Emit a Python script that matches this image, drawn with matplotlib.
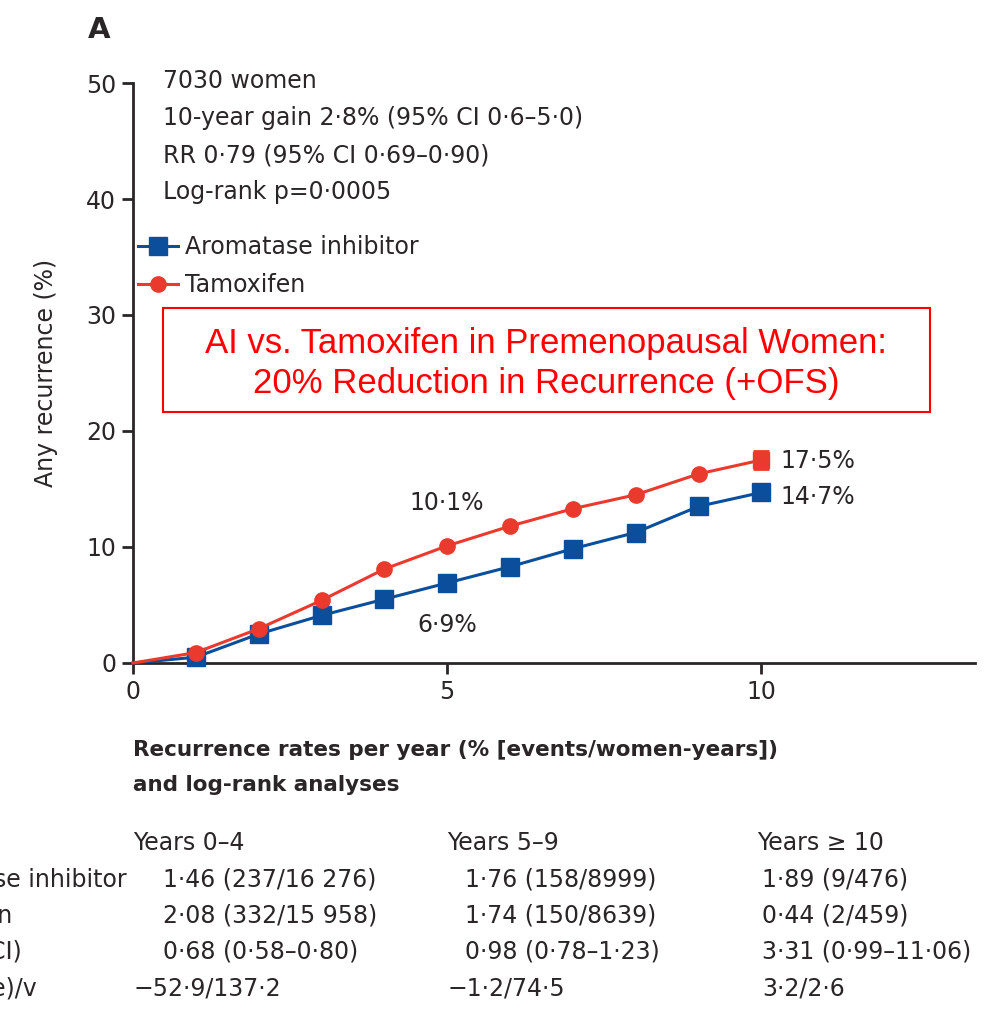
import matplotlib
matplotlib.use("Agg")
import matplotlib.pyplot as plt
from matplotlib.patches import Rectangle

# ---- data ----
years = [0, 1, 2, 3, 4, 5, 6, 7, 8, 9, 10]
ai_recurrence = [0, 0.5, 2.5, 4.1, 5.5, 6.9, 8.3, 9.85, 11.25, 13.5, 14.7]
tam_recurrence = [0, 0.9, 2.95, 5.4, 8.1, 10.1, 11.8, 13.3, 14.5, 16.3, 17.5]
tam_err10 = 0.8

x_ticks = [0, 5, 10]
y_ticks = [0, 10, 20, 30, 40, 50]

header_lines = ["7030 women",
                "10-year gain 2·8% (95% CI 0·6–5·0)",
                "RR 0·79 (95% CI 0·69–0·90)",
                "Log-rank p=0·0005"]

periods = ["Years 0–4", "Years 5–9", "Years \u2265 10"]
row_labels = ["Aromatase inhibitor", "Tamoxifen", "Rate ratio (95% CI)", "Log-rank (o–e)/v"]
ai_rates = ["1·46 (237/16 276)", "1·76 (158/8999)", "1·89 (9/476)"]
tam_rates = ["2·08 (332/15 958)", "1·74 (150/8639)", "0·44 (2/459)"]
rate_ratios = ["0·68 (0·58–0·80)", "0·98 (0·78–1·23)", "3·31 (0·99–11·06)"]
logrank = ["−52·9/137·2", "−1·2/74·5", "3·2/2·6"]

BLUE = "#0b4f9c"
RED = "#ea3a2e"
INK = "#2a2526"
FONT = ["DejaVu Sans"]
plt.rcParams['font.family'] = FONT

W, H = 986, 1010
fig = plt.figure(figsize=(W / 100, H / 100), dpi=100)


def P(x, y):
    return x / W, 1 - y / H


ax_l, ax_r, ax_t, ax_b = 133, 975, 83, 663
ax = fig.add_axes([ax_l / W, 1 - ax_b / H, (ax_r - ax_l) / W, (ax_b - ax_t) / H])
ax.set_xlim(0, 13.4)
ax.set_ylim(0, 50)
for s in ["top", "right"]:
    ax.spines[s].set_visible(False)
for s in ["left", "bottom"]:
    ax.spines[s].set_linewidth(2.0)
    ax.spines[s].set_color(INK)
ax.set_xticks(x_ticks)
ax.set_yticks(y_ticks)
ax.tick_params(axis="both", direction="out", length=8, width=2, color=INK,
               labelsize=17, labelcolor=INK, pad=4)

ax.plot(years, ai_recurrence, color=BLUE, lw=2.2, marker="s", ms=13,
        markevery=list(range(1, len(years))), clip_on=False, zorder=3,
        label="Aromatase inhibitor")
ax.plot(years[:-1], tam_recurrence[:-1], color=RED, lw=2.2, marker="o", ms=11,
        markevery=list(range(1, len(years) - 1)), clip_on=False, zorder=4,
        label="Tamoxifen")
ax.plot(years[-2:], tam_recurrence[-2:], color=RED, lw=2.2, zorder=4)
ax.errorbar([years[-1]], [tam_recurrence[-1]], yerr=[tam_err10], fmt="s",
            color=RED, ms=11, capsize=6, elinewidth=2, capthick=2, zorder=4)

ax.set_ylabel("Any recurrence (%)", fontsize=17, color=INK, labelpad=20)

leg = ax.legend(loc="upper left", bbox_to_anchor=(-0.005, 0.754), frameon=False,
                fontsize=17, handlelength=1.7, handletextpad=0.3,
                labelspacing=0.6, borderaxespad=0, labelcolor=INK)

# annotations
ax.annotate("10·1%", (years[5], tam_recurrence[5]), xytext=(0, 31),
            textcoords="offset points", ha="center", va="center",
            fontsize=17, color=INK)
ax.annotate("6·9%", (years[5], ai_recurrence[5]), xytext=(0, -30),
            textcoords="offset points", ha="center", va="center",
            fontsize=17, color=INK)
ax.annotate("17·5%", (years[10], tam_recurrence[10]), xytext=(14, -1),
            textcoords="offset points", ha="left", va="center",
            fontsize=17, color=INK)
ax.annotate("14·7%", (years[10], ai_recurrence[10]), xytext=(14, -3),
            textcoords="offset points", ha="left", va="center",
            fontsize=17, color=INK)

# panel letter
fig.text(*P(88, 30), "A", fontsize=21, fontweight="bold", color=INK,
         ha="left", va="center")

# header lines
for i, line in enumerate(header_lines):
    fig.text(*P(163, 81 + i * 37), line, fontsize=17, color=INK,
             ha="left", va="center")

# red boxed title
bx0, by0, bx1, by1 = 163, 308, 930, 412
fig.patches.append(Rectangle(P(bx0, by1), (bx1 - bx0) / W, (by1 - by0) / H,
                             transform=fig.transFigure, fill=True, fc="white",
                             ec="#ff0000", lw=1.5, zorder=5))
for k, line in enumerate(["AI vs. Tamoxifen in Premenopausal Women:",
                          "20% Reduction in Recurrence (+OFS)"]):
    fig.text(*P(546, 343 + k * 41), line, fontsize=25, color="#ff0000",
             ha="center", va="center", family=["Liberation Sans", "DejaVu Sans"],
             zorder=6)

# x-axis title
fig.text(*P(133, 750), "Recurrence rates per year (% [events/women-years])",
         fontsize=15.5, color=INK, fontweight="bold", ha="left", va="center")
fig.text(*P(133, 785), "and log-rank analyses",
         fontsize=15.5, color=INK, fontweight="bold", ha="left", va="center")

# table
col_x = [133, 447, 757]
val_x = [163, 465, 762]
row_y = [880, 916, 952, 989]
label_right = [127, 12, 22, 37]
for j, p in enumerate(periods):
    fig.text(*P(col_x[j], 843), p, fontsize=17, color=INK, ha="left", va="center")
for i, lab in enumerate(row_labels):
    fig.text(*P(label_right[i], row_y[i]), lab, fontsize=17, color=INK,
             ha="right", va="center")
rows = [ai_rates, tam_rates, rate_ratios, logrank]
for i, row in enumerate(rows):
    for j, v in enumerate(row):
        x = val_x[j] if i < 3 else col_x[j] if j < 2 else val_x[j]
        fig.text(*P(x, row_y[i]), v, fontsize=17, color=INK, ha="left", va="center")

fig.savefig("out.png", dpi=100)
